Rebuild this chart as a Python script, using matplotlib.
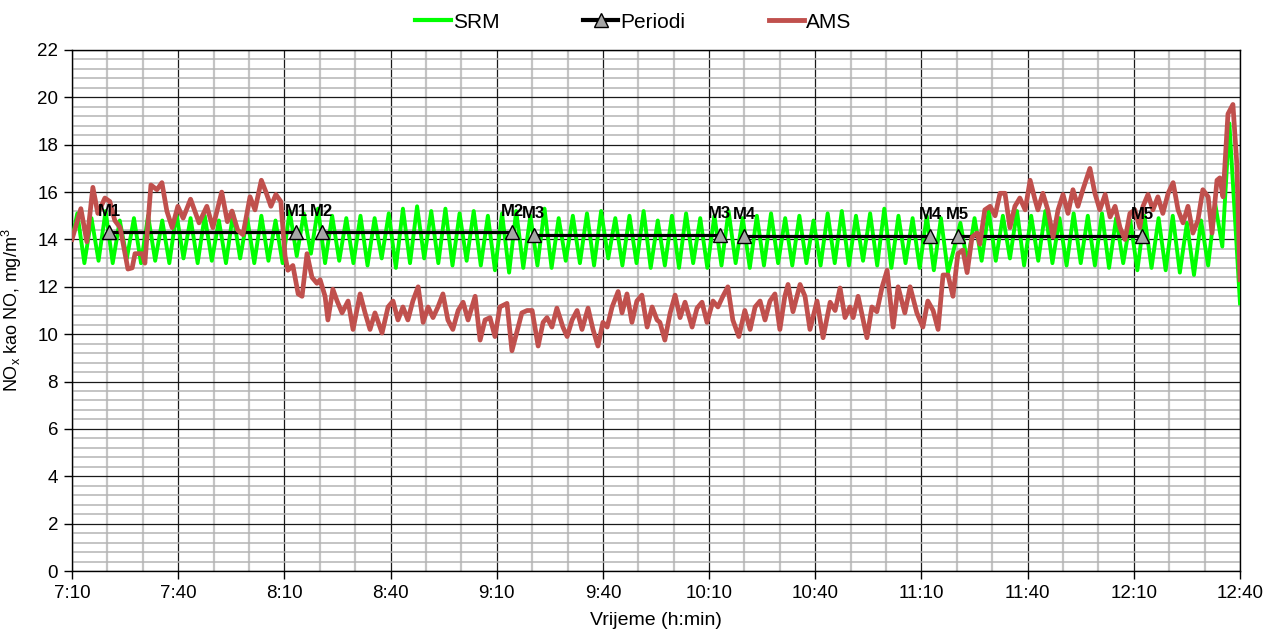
import numpy as np
import matplotlib
matplotlib.use('Agg')
import matplotlib.pyplot as plt
from matplotlib.ticker import MultipleLocator, FuncFormatter
from matplotlib.lines import Line2D

# time axis: minutes after 7:10
START_MIN = 7 * 60 + 10

# SRM (green) - peaks/troughs every 2 min
srm_t = np.concatenate([[0], np.arange(1.5, 248, 2), np.arange(251, 328, 2), [330]])
srm_v = [14.0,
         15.1, 13.0, 14.9, 13.1, 15.2, 13.0, 14.8, 13.2, 14.9, 13.0,
         15.0, 13.1, 14.8, 13.0, 15.1, 13.2, 14.9, 13.0, 15.0, 13.1,
         14.8, 13.0, 15.1, 13.2, 14.9, 13.0, 15.0, 13.1, 14.8, 13.0,
         15.2, 13.3, 15.1, 13.4, 15.3, 13.0, 15.0, 13.1, 14.9, 13.0,
         15.0, 12.9, 14.9, 13.2, 15.1, 12.8, 15.3, 13.0, 15.4, 13.2,
         15.2, 13.0, 15.3, 12.9, 15.1, 13.1, 15.2, 12.9, 15.0, 12.7,
         15.1, 12.6, 15.2, 12.8, 15.0, 12.9, 15.3, 12.8, 14.9, 13.1,
         15.0, 13.0, 15.1, 12.9, 15.2, 13.2, 14.9, 12.9, 15.0, 13.0,
         15.2, 12.8, 14.8, 12.9, 15.0, 12.8, 15.1, 13.0, 14.9, 12.8,
         15.0, 12.9, 15.2, 13.0, 14.9, 12.8, 15.0, 12.9, 15.1, 13.0,
         14.9, 12.9, 15.0, 13.0, 14.8, 12.9, 15.1, 13.0, 15.2, 12.9,
         15.0, 13.1, 15.1, 12.9, 15.3, 12.8, 15.0, 13.0, 14.9, 12.8,
         15.0, 12.7, 14.9, 12.6,
         14.7, 13.0, 14.9, 13.1, 15.2, 13.1, 15.0, 13.2, 15.2, 12.9,
         15.0, 13.1, 15.2, 13.0, 14.9, 12.9, 15.1, 13.0, 15.0, 12.9,
         15.1, 12.8, 14.9, 13.0, 14.8, 12.7, 15.0, 12.8, 14.9, 12.7,
         15.0, 12.6, 14.7, 12.5, 14.8, 12.9, 15.5, 13.7, 18.9,
         11.3]

# AMS (red)
ams_t = [0, 2.5, 4.2, 5.9, 7.3, 9.3, 10.7, 12.1, 13.6, 15.8,
         17.0, 17.8, 19.8, 20.6, 22.3, 24.0, 25.4, 26.8, 28.3, 29.9,
         31.4, 33.5, 35.9, 38.1, 39.8, 42.3, 43.9, 45.2, 46.8, 48.3,
         50.3, 51.7, 53.5, 54.8, 56.2, 57.6, 59.0, 60.2, 61.0, 62.4,
         63.9, 65.0, 66.4, 67.8, 69.2, 70.1, 71.5, 72.3, 73.7, 74.9,
         76.3, 78.0, 79.4, 81.4, 82.8, 84.2, 85.6, 87.6, 89.3, 90.7,
         92.1, 93.5, 94.9, 96.3, 97.8, 99.2, 100.6, 102.0, 103.4, 104.8,
         106.2, 107.6, 109.1, 110.5, 111.9, 113.9, 115.3, 116.7, 118.1, 119.5,
         120.9, 122.9, 124.3, 125.7, 127.1, 128.6, 130.0, 131.7, 133.1, 134.2,
         135.6, 137.0, 138.7, 139.9, 141.3, 142.7, 144.1, 145.8, 147.2, 148.6,
         150.0, 151.2, 152.6, 154.3, 155.4, 156.8, 158.2, 159.6, 161.0, 162.5,
         163.9, 165.3, 166.1, 167.5, 169.0, 170.4, 171.8, 173.2, 175.2, 176.6,
         178.0, 179.4, 181.1, 182.5, 183.9, 185.3, 186.7, 188.4, 190.1, 191.6,
         193.0, 194.4, 195.8, 197.2, 198.6, 200.0, 201.4, 202.3, 203.7, 205.7,
         207.1, 208.5, 210.5, 212.2, 214.2, 215.6, 217.0, 218.4, 219.8, 220.7,
         222.1, 224.6, 226.0, 227.4, 228.9, 230.3, 232.0, 233.4, 235.3, 236.8,
         238.7, 240.4, 241.8, 243.3, 244.7, 246.1, 247.5, 248.9, 250.3, 251.7,
         252.9, 254.3, 255.7, 256.5, 257.9, 259.4, 260.8, 262.2, 263.6, 265.0,
         266.4, 267.8, 269.3, 270.7, 272.1, 272.9, 274.3, 275.7, 277.2, 278.6,
         280.0, 281.4, 282.8, 284.2, 285.6, 287.6, 289.0, 290.4, 291.9, 293.3,
         294.7, 296.1, 297.5, 298.9, 300.3, 301.7, 302.6, 304.0, 305.4, 306.8,
         308.2, 309.7, 311.1, 312.5, 313.9, 315.3, 316.7, 318.1, 319.5, 321.0,
         322.1, 323.5, 324.3, 325.2, 326.6, 328.0, 329.1, 330.0]
ams_v = [14.0, 15.3, 13.9, 16.2, 15.1, 15.75, 15.6, 14.8, 14.5, 12.75,
         12.8, 13.4, 13.4, 13.0, 16.3, 16.1, 16.4, 15.2, 14.5, 15.4,
         14.9, 15.7, 14.7, 15.4, 14.5, 16.0, 14.75, 15.2, 14.4, 14.2,
         15.8, 15.25, 16.5, 16.0, 15.4, 15.9, 15.6, 13.3, 12.7, 12.9,
         11.7, 11.6, 13.4, 12.4, 12.15, 12.3, 11.6, 10.6, 11.9, 11.4,
         10.9, 11.4, 10.2, 11.7, 10.9, 10.2, 10.9, 10.05, 11.15, 11.4,
         10.6, 11.15, 10.6, 11.4, 12.0, 10.5, 11.15, 10.7, 11.15, 11.7,
         10.6, 10.2, 11.0, 11.35, 10.6, 11.6, 9.75, 10.6, 10.7, 9.9,
         11.15, 11.3, 9.3, 10.1, 10.9, 11.0, 11.0, 9.5, 10.5, 10.7,
         10.3, 11.1, 10.3, 9.9, 10.6, 11.0, 10.2, 11.1, 10.2, 9.5,
         10.5, 10.3, 11.15, 11.8, 10.9, 11.7, 10.5, 11.4, 11.65, 10.3,
         11.15, 10.6, 10.5, 9.75, 10.9, 11.65, 10.7, 11.35, 10.3, 11.1,
         11.35, 10.5, 11.4, 11.15, 11.6, 12.0, 10.6, 9.9, 11.0, 10.2,
         11.15, 11.4, 10.6, 11.4, 11.7, 10.2, 11.6, 12.1, 10.95, 12.1,
         11.6, 10.2, 11.4, 9.85, 11.35, 11.0, 11.95, 10.7, 11.15, 10.7,
         11.6, 9.85, 11.15, 10.95, 12.0, 12.7, 10.3, 12.0, 10.9, 12.0,
         10.9, 10.3, 11.4, 11.0, 10.2, 12.5, 12.5, 11.6, 13.4, 13.55,
         12.6, 14.1, 14.27, 13.8, 15.25, 15.4, 15.0, 15.95, 15.95, 14.5,
         15.4, 15.75, 15.25, 16.5, 15.67, 15.25, 15.95, 15.25, 14.1, 15.25,
         15.9, 15.1, 16.1, 15.4, 16.1, 17.0, 15.95, 15.25, 15.9, 14.95,
         15.4, 14.5, 14.0, 15.1, 15.25, 14.5, 15.4, 15.9, 15.25, 15.8,
         15.1, 15.95, 16.4, 15.25, 14.7, 15.4, 14.27, 14.8, 16.1, 15.8,
         14.27, 16.5, 16.6, 15.8, 19.3, 19.7, 17.2, 12.3]

# measurement periods
per_name = ['M1', 'M2', 'M3', 'M4', 'M5']
per_start = [10.5, 70.5, 130.5, 190.0, 250.3]
per_end = [63.3, 124.3, 183.0, 242.4, 302.3]
per_val = [14.3, 14.3, 14.2, 14.15, 14.15]

plt.rcParams['font.family'] = ['Liberation Sans', 'DejaVu Sans']
plt.rcParams['mathtext.default'] = 'regular'

green = '#00ff00'
red = '#c0504d'

fig = plt.figure(figsize=(12.67, 6.30), dpi=100)
ax = fig.add_axes([72 / 1267, 59 / 630, 1168 / 1267, 521 / 630])

ax.plot(srm_t, srm_v, color=green, lw=2.8, solid_joinstyle='round', zorder=3)
for name, s, e, v in zip(per_name, per_start, per_end, per_val):
    ax.plot([s, e], [v, v], color='black', lw=2.3, marker='^', ms=10,
            mfc='#a6a6a6', mec='black', mew=1.0, zorder=4)
    for xx in (s, e):
        ax.annotate(name, (xx, v), xytext=(0, 12), textcoords='offset points',
                    ha='center', va='baseline', fontsize=12, fontweight='bold', zorder=6)
ax.plot(ams_t, ams_v, color=red, lw=3.4, solid_joinstyle='round', zorder=5)

ax.set_xlim(0, 330)
ax.set_ylim(0, 22)
ax.xaxis.set_major_locator(MultipleLocator(30))
ax.xaxis.set_minor_locator(MultipleLocator(10))
ax.yaxis.set_major_locator(MultipleLocator(2))
ax.yaxis.set_minor_locator(MultipleLocator(0.4))


def fmt_time(v, pos):
    m = START_MIN + int(round(v))
    return f"{m // 60}:{m % 60:02d}"


ax.xaxis.set_major_formatter(FuncFormatter(fmt_time))

ax.grid(which='major', color='#1a1a1a', lw=0.9, zorder=1)
ax.yaxis.grid(which='minor', color='#b4b4b4', lw=1.1, zorder=0)
ax.xaxis.grid(which='minor', color='#c4c4c4', lw=1.6, zorder=0)
ax.set_axisbelow(True)
ax.tick_params(which='major', direction='out', length=6, width=1, labelsize=13.5, pad=4)
ax.tick_params(which='minor', length=0)
for sp in ax.spines.values():
    sp.set_color('black')
    sp.set_linewidth(1)

ax.set_ylabel('NO$_x$ kao NO, mg/m$^3$', fontsize=13)
ax.yaxis.set_label_coords(-0.041, 0.5)
ax.set_xlabel('Vrijeme (h:min)', fontsize=14)
ax.xaxis.set_label_coords(0.5, -0.078)

handles = [Line2D([], [], color=green, lw=3),
           Line2D([], [], color='black', lw=3, marker='^', ms=10, mfc='#a6a6a6', mec='black'),
           Line2D([], [], color=red, lw=3.5)]
fig.legend(handles, ['SRM', 'Periodi', 'AMS'], loc='center', bbox_to_anchor=(0.5, 1 - 22 / 630),
           ncol=3, frameon=False, fontsize=15, handlelength=1.7, handletextpad=0.1,
           columnspacing=4.0)

fig.savefig('out.png', dpi=100)
